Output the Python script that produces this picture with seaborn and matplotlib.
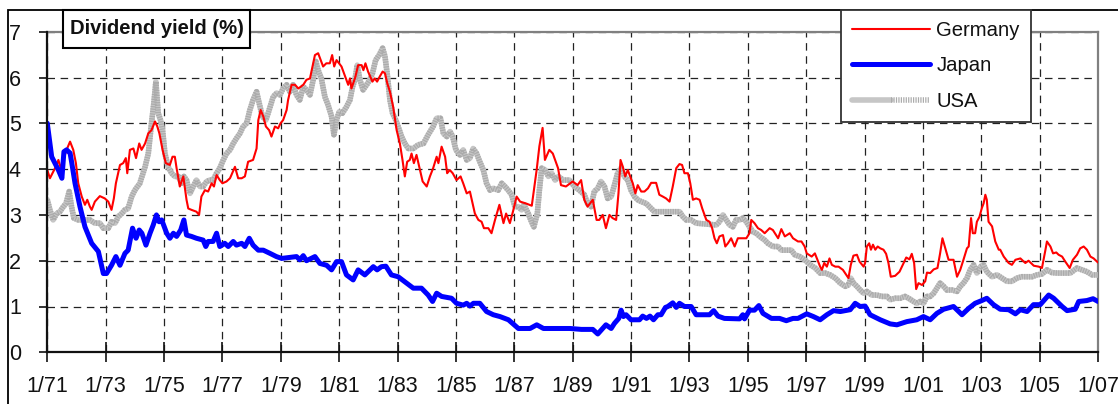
import numpy as np
import pandas as pd
import matplotlib
matplotlib.use("Agg")
import matplotlib.pyplot as plt
import seaborn as sns
from matplotlib.patches import Rectangle
from matplotlib.lines import Line2D
from matplotlib.legend_handler import HandlerTuple

# ---------------- data (decimal years, dividend yield %) ----------------
japan_x = [1971.0,1971.15,1971.38,1971.5,1971.57,1971.66,1971.78,1971.84,1971.95,1972.12,1972.29,1972.52,1972.75,1972.92,
           1973.03,1973.2,1973.35,1973.49,1973.66,1973.77,1973.92,1974.04,1974.15,1974.24,1974.38,1974.52,1974.63,1974.74,
           1974.83,1974.92,1975.09,1975.2,1975.32,1975.43,1975.57,1975.68,1975.77,1975.94,1976.11,1976.34,1976.43,1976.51,
           1976.68,1976.8,1976.91,1977.08,1977.2,1977.37,1977.48,1977.66,1977.77,1977.92,1978.05,1978.23,1978.4,1978.63,
           1978.85,1979.03,1979.54,1979.65,1979.77,1979.88,1980.17,1980.34,1980.57,1980.74,1980.91,1981.08,1981.25,1981.48,
           1981.65,1981.88,1982.17,1982.3,1982.45,1982.6,1982.79,1983.02,1983.31,1983.54,1983.82,1984.05,1984.2,1984.34,
           1984.51,1984.85,1985.02,1985.25,1985.37,1985.48,1985.6,1985.82,1986.05,1986.28,1986.51,1986.8,1987.14,1987.54,
           1987.77,1988.0,1988.91,1989.3,1989.69,1989.86,1990.03,1990.14,1990.32,1990.43,1990.58,1990.66,1990.74,1990.83,
           1991.0,1991.29,1991.4,1991.53,1991.65,1991.77,1991.92,1992.03,1992.18,1992.26,1992.43,1992.55,1992.66,1992.83,
           1993.06,1993.23,1993.69,1993.83,1993.98,1994.2,1994.72,1994.83,1994.89,1995.06,1995.23,1995.38,1995.52,1995.81,
           1996.09,1996.32,1996.55,1996.72,1997.02,1997.25,1997.48,1997.71,1997.94,1998.17,1998.51,1998.68,1998.85,1999.02,
           1999.19,1999.54,1999.88,2000.11,2000.45,2000.79,2001.02,2001.25,2001.48,2001.71,2002.05,2002.34,2002.57,2002.79,
           2003.02,2003.19,2003.42,2003.65,2003.94,2004.17,2004.34,2004.57,2004.79,2005.02,2005.31,2005.48,2005.77,2005.94,
           2006.22,2006.34,2006.62,2006.83,2007.0]
japan_y = [5.0,4.27,3.98,3.8,4.38,4.42,4.35,4.13,3.69,3.18,2.74,2.38,2.2,1.72,
           1.72,1.9,2.09,1.9,2.16,2.23,2.71,2.49,2.67,2.6,2.34,2.6,2.78,3.0,
           2.85,2.89,2.6,2.49,2.6,2.53,2.67,2.89,2.56,2.53,2.49,2.45,2.31,2.42,
           2.42,2.6,2.31,2.38,2.31,2.42,2.34,2.38,2.31,2.49,2.34,2.23,2.23,2.16,
           2.09,2.05,2.09,2.02,2.11,2.0,2.09,1.94,1.9,1.8,1.98,1.98,1.69,1.58,
           1.8,1.69,1.87,1.8,1.87,1.88,1.69,1.65,1.51,1.4,1.4,1.25,1.11,1.29,
           1.22,1.18,1.07,1.03,1.07,1.01,1.07,1.07,0.89,0.82,0.78,0.71,0.52,0.52,
           0.6,0.52,0.52,0.5,0.5,0.4,0.52,0.6,0.52,0.63,0.74,0.92,0.78,0.82,
           0.71,0.71,0.79,0.74,0.79,0.71,0.82,0.82,0.98,1.0,1.08,0.98,1.07,1.0,
           1.0,0.82,0.82,0.91,0.79,0.74,0.73,0.82,0.73,0.92,0.92,1.02,0.85,0.74,
           0.74,0.69,0.74,0.74,0.84,0.78,0.71,0.82,0.91,0.89,0.93,1.07,1.0,1.01,
           0.82,0.71,0.62,0.6,0.67,0.71,0.78,0.71,0.85,0.94,1.0,0.82,0.96,1.07,
           1.13,1.18,1.04,0.94,0.93,0.84,0.93,0.89,1.04,1.04,1.25,1.18,1.0,0.91,
           0.94,1.11,1.13,1.17,1.11]

germany_x = [1971.0,1971.09,1971.2,1971.32,1971.38,1971.46,1971.55,1971.66,1971.78,1971.89,1971.98,1972.06,1972.18,1972.29,
             1972.37,1972.46,1972.52,1972.63,1972.8,1972.97,1973.09,1973.2,1973.28,1973.35,1973.49,1973.6,1973.69,1973.74,
             1973.83,1973.95,1974.04,1974.15,1974.23,1974.35,1974.46,1974.57,1974.69,1974.77,1974.84,1974.95,1975.06,1975.2,
             1975.29,1975.37,1975.43,1975.54,1975.66,1975.77,1975.83,1975.94,1976.11,1976.2,1976.28,1976.4,1976.51,1976.63,
             1976.71,1976.8,1976.91,1977.0,1977.14,1977.26,1977.43,1977.54,1977.66,1977.77,1977.88,1978.05,1978.17,1978.23,
             1978.31,1978.4,1978.49,1978.6,1978.68,1978.8,1978.91,1978.99,1979.08,1979.2,1979.25,1979.37,1979.49,1979.6,
             1979.77,1979.88,1980.0,1980.17,1980.28,1980.45,1980.56,1980.68,1980.76,1980.83,1980.91,1981.08,1981.23,1981.31,
             1981.37,1981.42,1981.55,1981.65,1981.77,1981.83,1981.9,1981.99,1982.14,1982.22,1982.3,1982.39,1982.49,1982.57,
             1982.65,1982.74,1982.85,1982.97,1983.08,1983.17,1983.25,1983.33,1983.42,1983.48,1983.56,1983.65,1983.77,1983.86,
             1984.0,1984.11,1984.22,1984.34,1984.4,1984.51,1984.63,1984.7,1984.79,1984.89,1985.02,1985.16,1985.25,1985.37,
             1985.48,1985.57,1985.65,1985.77,1985.88,1985.96,1986.11,1986.22,1986.34,1986.49,1986.63,1986.72,1986.85,1986.97,
             1987.08,1987.2,1987.4,1987.6,1987.77,1987.86,1987.97,1988.05,1988.2,1988.32,1988.5,1988.6,1988.77,1989.0,
             1989.17,1989.29,1989.4,1989.51,1989.69,1989.82,1989.91,1990.03,1990.14,1990.26,1990.37,1990.49,1990.57,1990.64,
             1990.72,1990.8,1990.89,1990.97,1991.06,1991.15,1991.23,1991.35,1991.46,1991.58,1991.69,1991.86,1991.97,1992.09,
             1992.2,1992.32,1992.43,1992.55,1992.66,1992.75,1992.83,1992.95,1993.03,1993.12,1993.23,1993.35,1993.44,1993.58,
             1993.69,1993.78,1993.86,1993.94,1994.03,1994.15,1994.23,1994.32,1994.43,1994.55,1994.66,1994.78,1994.95,1995.06,
             1995.12,1995.23,1995.35,1995.46,1995.58,1995.75,1995.86,1996.04,1996.15,1996.27,1996.44,1996.55,1996.72,1996.84,
             1996.95,1997.02,1997.19,1997.3,1997.48,1997.54,1997.62,1997.71,1997.8,1997.88,1998.0,1998.11,1998.26,1998.45,
             1998.53,1998.62,1998.74,1998.83,1998.97,1999.02,1999.08,1999.16,1999.22,1999.29,1999.37,1999.45,1999.54,1999.65,
             1999.74,1999.82,1999.9,2000.05,2000.2,2000.34,2000.43,2000.54,2000.62,2000.7,2000.77,2000.85,2000.97,2001.08,
             2001.14,2001.25,2001.37,2001.5,2001.59,2001.67,2001.77,2001.88,2002.05,2002.17,2002.28,2002.39,2002.51,2002.57,
             2002.65,2002.71,2002.79,2002.85,2002.94,2003.02,2003.08,2003.14,2003.19,2003.25,2003.37,2003.48,2003.6,2003.65,
             2003.77,2003.94,2004.05,2004.17,2004.34,2004.51,2004.62,2004.8,2004.97,2005.08,2005.2,2005.25,2005.37,2005.46,
             2005.57,2005.65,2005.77,2005.88,2006.03,2006.14,2006.28,2006.39,2006.51,2006.62,2006.74,2006.85,2007.0]
germany_y = [3.98,3.8,3.94,4.09,4.2,4.02,4.2,4.42,4.6,4.42,4.13,3.69,3.4,3.22,
             3.33,3.18,3.11,3.29,3.41,3.36,3.29,3.11,3.36,3.69,4.09,4.13,4.24,3.91,
             4.42,4.45,4.24,4.56,4.42,4.56,4.78,4.85,5.04,4.93,4.78,4.42,4.13,4.09,
             4.27,4.27,4.02,3.62,3.84,3.33,3.14,3.11,3.07,3.0,3.4,3.54,3.51,3.69,
             3.62,3.87,3.76,3.69,3.73,3.8,4.05,3.8,3.8,3.84,4.16,4.2,4.45,5.07,
             5.29,5.15,4.93,4.85,4.71,4.93,4.89,5.0,5.07,5.29,5.51,5.84,5.84,5.76,
             5.84,5.95,5.98,6.49,6.53,6.24,6.31,6.31,6.49,6.24,6.38,6.24,5.98,5.84,
             5.98,5.76,6.0,6.27,6.27,6.16,6.31,6.13,5.91,5.98,5.91,6.02,6.13,6.09,
             5.87,5.69,5.36,4.85,4.56,4.2,3.84,4.16,4.2,4.34,4.13,4.31,3.98,3.73,
             3.62,3.84,4.02,4.27,4.13,4.49,4.27,3.91,3.98,3.91,3.76,3.84,3.69,3.47,
             3.51,3.25,3.03,2.89,2.85,2.71,2.71,2.6,2.89,3.22,2.82,3.03,2.82,3.11,
             3.4,3.29,3.25,3.2,4.0,4.5,4.9,4.2,4.42,4.34,4.02,3.65,3.62,3.73,
             3.65,3.76,3.33,3.18,3.33,2.89,2.89,3.0,2.71,3.0,2.93,2.89,3.47,4.2,
             4.05,3.84,3.98,3.84,3.69,3.47,3.65,3.51,3.51,3.58,3.7,3.7,3.44,3.4,
             3.36,3.29,3.62,4.02,4.11,4.09,3.91,3.91,3.69,3.33,3.36,3.33,3.14,2.89,
             2.85,2.71,2.49,2.38,2.53,2.56,2.31,2.38,2.49,2.31,2.49,2.49,2.49,2.6,
             2.89,2.82,2.71,2.67,2.6,2.71,2.67,2.49,2.69,2.53,2.6,2.49,2.42,2.42,
             2.31,2.16,2.09,2.16,1.87,1.8,1.95,1.87,2.05,1.91,1.87,1.87,1.8,1.62,
             1.91,2.11,2.13,1.98,1.87,1.95,2.31,2.38,2.24,2.35,2.24,2.31,2.27,2.24,
             2.15,1.95,1.65,1.67,1.76,1.95,2.07,2.03,2.15,1.95,1.38,1.51,1.47,1.55,
             1.74,1.73,1.81,1.84,2.16,2.49,2.27,2.02,2.02,1.65,1.8,2.02,2.27,2.31,
             2.93,2.6,2.6,2.85,2.96,3.15,3.25,3.44,3.33,2.85,2.75,2.42,2.24,2.24,
             2.09,1.95,1.91,2.02,2.05,1.95,2.0,1.89,1.87,1.84,2.24,2.42,2.31,2.16,
             2.18,2.13,2.09,1.98,1.84,2.02,2.13,2.27,2.31,2.24,2.09,2.05,1.96]

usa_x = [1971.0,1971.09,1971.2,1971.32,1971.43,1971.55,1971.64,1971.75,1971.83,1971.91,1972.06,1972.23,1972.46,1972.63,
         1972.8,1972.92,1973.09,1973.2,1973.32,1973.43,1973.55,1973.66,1973.77,1973.89,1974.0,1974.17,1974.35,1974.46,
         1974.57,1974.65,1974.72,1974.8,1974.88,1974.95,1975.03,1975.14,1975.26,1975.37,1975.49,1975.6,1975.68,1975.77,
         1975.89,1976.0,1976.11,1976.23,1976.34,1976.46,1976.57,1976.68,1976.8,1976.91,1977.03,1977.14,1977.26,1977.37,
         1977.48,1977.6,1977.71,1977.83,1977.94,1978.05,1978.17,1978.26,1978.37,1978.49,1978.6,1978.74,1978.86,1978.97,
         1979.08,1979.2,1979.31,1979.42,1979.54,1979.65,1979.77,1979.88,1980.0,1980.11,1980.2,1980.28,1980.39,1980.51,
         1980.62,1980.74,1980.82,1980.91,1981.0,1981.11,1981.25,1981.37,1981.46,1981.54,1981.62,1981.71,1981.82,1981.94,
         1982.05,1982.14,1982.25,1982.37,1982.49,1982.57,1982.65,1982.74,1982.83,1982.94,1983.02,1983.14,1983.25,1983.37,
         1983.54,1983.71,1983.89,1984.05,1984.22,1984.34,1984.47,1984.57,1984.69,1984.8,1984.89,1985.0,1985.14,1985.25,
         1985.37,1985.48,1985.59,1985.71,1985.82,1985.94,1986.05,1986.17,1986.28,1986.45,1986.57,1986.68,1986.79,1986.91,
         1987.02,1987.14,1987.25,1987.33,1987.48,1987.59,1987.67,1987.79,1987.86,1987.94,1988.06,1988.17,1988.28,1988.4,
         1988.51,1988.68,1988.89,1989.06,1989.23,1989.4,1989.51,1989.63,1989.74,1989.86,1989.97,1990.09,1990.2,1990.32,
         1990.43,1990.54,1990.66,1990.77,1990.89,1991.0,1991.12,1991.23,1991.35,1991.52,1991.63,1991.8,1992.15,1992.49,
         1992.66,1992.78,1992.89,1993.06,1993.23,1993.92,1994.03,1994.15,1994.26,1994.38,1994.49,1994.6,1994.72,1994.83,
         1994.95,1995.06,1995.18,1995.29,1995.41,1995.58,1995.69,1995.86,1996.04,1996.15,1996.49,1996.61,1996.78,1996.95,
         1997.14,1997.31,1997.48,1997.65,1997.82,1998.0,1998.17,1998.34,1998.45,1998.53,1998.62,1998.74,1998.85,1998.97,
         1999.08,1999.25,1999.42,1999.59,1999.77,1999.88,2000.05,2000.22,2000.39,2000.51,2000.68,2000.79,2000.91,2001.02,
         2001.14,2001.25,2001.37,2001.48,2001.59,2001.71,2001.82,2002.0,2002.17,2002.28,2002.39,2002.51,2002.62,2002.74,
         2002.85,2002.97,2003.08,2003.19,2003.37,2003.54,2003.71,2003.88,2004.05,2004.22,2004.39,2004.57,2004.74,2004.91,
         2005.08,2005.25,2005.42,2005.6,2005.82,2006.05,2006.28,2006.45,2006.62,2006.8,2007.0]
usa_y = [3.33,3.11,2.89,3.03,3.07,3.18,3.25,3.51,3.18,2.93,2.89,2.89,2.89,2.82,
         2.82,2.71,2.71,2.85,2.82,2.96,3.03,3.11,3.14,3.4,3.54,3.69,4.05,4.34,
         5.0,5.44,5.91,5.22,5.07,4.85,4.34,4.05,3.91,3.84,3.84,3.69,3.84,3.76,
         3.47,3.62,3.76,3.62,3.62,3.73,3.76,3.76,3.91,4.02,4.2,4.34,4.42,4.56,
         4.67,4.78,4.93,5.0,5.29,5.51,5.69,5.44,5.15,5.07,5.29,5.58,5.66,5.62,
         5.76,5.84,5.69,5.84,5.62,5.51,5.8,5.73,5.62,5.95,6.35,6.16,5.98,5.58,
         5.4,5.15,4.75,5.07,5.25,5.22,5.36,5.51,5.8,5.95,6.27,5.95,5.73,5.84,
         5.95,6.09,6.38,6.49,6.64,6.46,6.06,5.51,5.22,5.07,4.93,4.71,4.56,4.45,
         4.45,4.53,4.56,4.75,4.93,5.11,5.11,4.78,4.71,4.82,4.71,4.42,4.31,4.42,
         4.2,4.24,4.45,4.34,4.16,3.98,3.69,3.54,3.58,3.54,3.69,3.62,3.54,3.44,
         3.18,3.18,3.11,3.22,3.03,2.85,2.74,3.03,3.54,4.02,3.98,3.84,3.91,3.76,
         3.84,3.76,3.76,3.62,3.54,3.44,3.25,3.18,3.51,3.58,3.73,3.62,3.36,3.4,
         3.65,3.91,4.02,3.84,3.76,3.54,3.4,3.33,3.29,3.25,3.18,3.07,3.07,3.07,
         3.07,2.96,2.89,2.89,2.82,2.78,2.85,3.0,2.89,2.78,2.74,2.89,2.89,2.93,
         2.85,2.74,2.63,2.6,2.53,2.45,2.38,2.31,2.31,2.23,2.23,2.13,2.09,2.02,
         1.91,1.84,1.73,1.73,1.69,1.62,1.51,1.44,1.47,1.62,1.51,1.44,1.36,1.29,
         1.33,1.25,1.25,1.22,1.22,1.15,1.18,1.18,1.22,1.18,1.11,1.07,1.11,1.07,
         1.22,1.22,1.29,1.4,1.51,1.44,1.36,1.36,1.33,1.44,1.51,1.62,1.8,1.91,
         1.73,1.87,1.91,1.76,1.65,1.69,1.62,1.55,1.55,1.62,1.65,1.65,1.65,1.69,
         1.71,1.8,1.74,1.73,1.73,1.73,1.84,1.8,1.76,1.69,1.69]

tick_years = list(range(1971, 2008, 2))
tick_labels = ["1/%02d" % (y % 100) for y in tick_years]
y_ticks = [0, 1, 2, 3, 4, 5, 6, 7]
title_text = "Dividend yield (%)"
series_names = ["Germany", "Japan", "USA"]

# ---------------- style ----------------
sns.set_style("white")
plt.rcParams['font.family'] = ['Liberation Sans', 'DejaVu Sans']

W, H = 1118, 404
fig = plt.figure(figsize=(W / 100, H / 100), dpi=100)
ax = fig.add_axes([47.3 / W, 1 - 352.3 / H, (1098 - 47.3) / W, (352.3 - 31.7) / H])

RED = "#ff0000"
BLUE = "#0000ff"
GRAY = "#c6c6c6"
GRAY2 = "#ababab"
US_LW = 4.0
US_DASH = (0.22, 0.22)

sns.lineplot(x=usa_x, y=usa_y, ax=ax, color=GRAY, lw=US_LW, estimator=None, sort=False, zorder=3)
sns.lineplot(x=usa_x, y=usa_y, ax=ax, color=GRAY2, lw=US_LW, estimator=None, sort=False, zorder=3.1)
ax.lines[-1].set_dashes(US_DASH)
sns.lineplot(x=germany_x, y=germany_y, ax=ax, color=RED, lw=1.5, estimator=None, sort=False, zorder=4)
sns.lineplot(x=japan_x, y=japan_y, ax=ax, color=BLUE, lw=3.6, estimator=None, sort=False, zorder=5)

ax.set_xlim(1971, 2007)
ax.set_ylim(0, 7)
ax.set_xticks(tick_years)
ax.set_xticklabels(tick_labels)
ax.set_yticks(y_ticks)
ax.set_xlabel("")
ax.set_ylabel("")

ax.grid(True, which="major", color="#222222", linestyle=(0, (6, 4.5)), linewidth=0.9)
ax.set_axisbelow(True)

for side in ["top", "right"]:
    ax.spines[side].set_color("#808080")
    ax.spines[side].set_linewidth(1.6)
for side in ["left", "bottom"]:
    ax.spines[side].set_color("#111111")
    ax.spines[side].set_linewidth(1.6)
    ax.spines[side].set_zorder(6)

ax.tick_params(axis="y", direction="out", length=6, width=1.2, color="#111111",
               labelsize=15.5, pad=13, left=True)
ax.tick_params(axis="x", direction="inout", length=14, width=1.2, color="#111111",
               labelsize=15.5, pad=10, bottom=True)
for lab in ax.get_xticklabels() + ax.get_yticklabels():
    lab.set_color("#111111")

# outer frame (cut at right/bottom)
fig.add_artist(Rectangle((8 / W, -0.2), 1.5, (1 - 10 / H) + 0.2, transform=fig.transFigure,
                         fill=False, edgecolor="#000000", lw=1.3, zorder=10))

# title box
tx0, tx1, ty0, ty1 = 63, 250, 10, 48
fig.add_artist(Rectangle((tx0 / W, 1 - ty1 / H), (tx1 - tx0) / W, (ty1 - ty0) / H,
                         transform=fig.transFigure, facecolor="white", edgecolor="#000000",
                         lw=1.5, zorder=11))
fig.text((tx0 + tx1) / 2 / W, 1 - (ty0 + ty1) / 2 / H, title_text, ha="center", va="center",
         fontsize=14.6, fontweight="bold", color="#111111", zorder=12)

# legend
h_ge = Line2D([], [], color=RED, lw=1.5)
h_jp = Line2D([], [], color=BLUE, lw=3.6, solid_capstyle="round")
h_us1 = Line2D([], [], color=GRAY, lw=US_LW)
h_us2 = Line2D([], [], color=GRAY2, lw=US_LW, dashes=US_DASH)
leg = fig.legend([h_ge, h_jp, (h_us1, h_us2)], series_names,
                 handler_map={tuple: HandlerTuple(ndivide=None, pad=0)},
                 loc="upper left", bbox_to_anchor=(841 / W, 1 - 10 / H),
                 bbox_transform=fig.transFigure, borderaxespad=0, frameon=True, fancybox=False,
                 edgecolor="#333333", framealpha=1, fontsize=14.6, handlelength=3.85,
                 handletextpad=0.3, labelspacing=0.8, borderpad=0.55)
leg.get_frame().set_linewidth(1.3)
leg.set_zorder(20)
for t in leg.get_texts():
    t.set_color("#111111")

fig.savefig("out.png", dpi=100, facecolor="white")
